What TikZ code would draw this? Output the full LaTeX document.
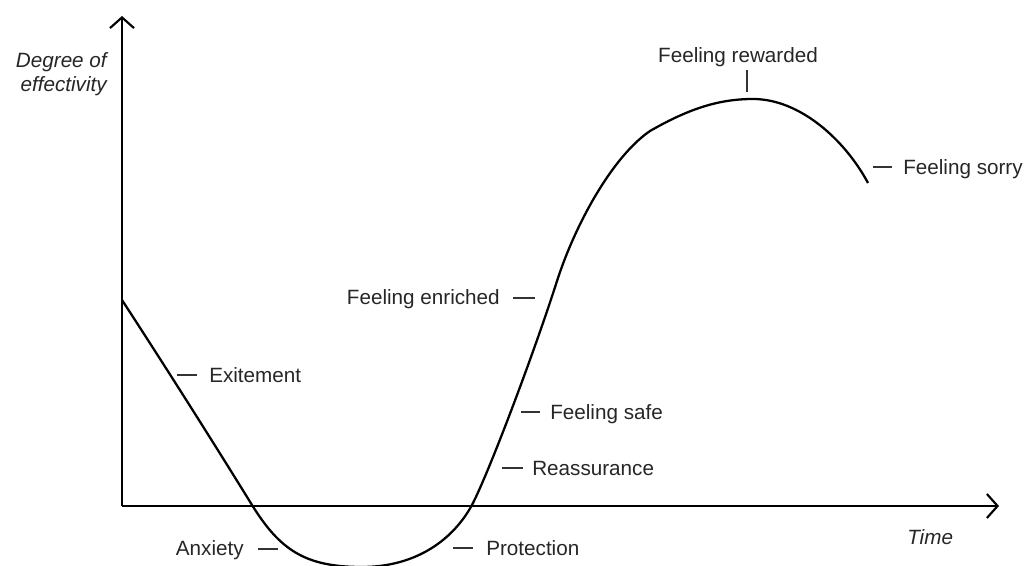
\documentclass[tikz,border=0pt]{standalone}
\usepackage{fontspec}
\setmainfont{Liberation Sans}
\usetikzlibrary{arrows.meta}
\begin{document}
\begin{tikzpicture}[x=0.75pt,y=-0.75pt,
  axis/.style={line width=1.6pt,-{Straight Barb[length=8pt,width=18pt,line width=1.6pt]}},
  curve/.style={line width=1.7pt,line join=round},
  tick/.style={line width=0.9pt,draw=black!80},
  lbl/.style={inner sep=0pt,font=\fontsize{15.5}{18}\selectfont,text=black!85}]
\useasboundingbox (0,0) rectangle (1027,566);
% axes
\coordinate (O) at (122,506);
\coordinate (Ytop) at (122,16);
\coordinate (Xend) at (999,506);
\draw[axis] (O) -- (Ytop);
\draw[axis] (O) -- (Xend);
% curve
\draw[curve] (122,300) .. controls (165,366) and (215,445) .. (252,505)
  .. controls (280,550) and (305,567) .. (362,567)
  .. controls (410,567) and (450,545) .. (472,505)
  .. controls (490,470) and (535,350) .. (557,281)
  .. controls (575,225) and (612,157) .. (650,131)
  .. controls (690,108) and (720,99) .. (753,99)
  .. controls (800,99) and (845,140) .. (868,183);
% axis labels
\node[lbl,anchor=base east,align=right,font=\fontsize{15.5}{18}\selectfont\itshape] (ylab) at (107,92) {Degree of\\effectivity};
\node[lbl,anchor=base west,font=\fontsize{15.5}{18}\selectfont\itshape] (xlab) at (907,544) {Time};
% labels
\node[lbl,anchor=base west] (exc) at (209,382) {Exitement};
\node[lbl,anchor=base east] (anx) at (244,555) {Anxiety};
\node[lbl,anchor=base west] (pro) at (486,555) {Protection};
\node[lbl,anchor=base west] (rea) at (532,475) {Reassurance};
\node[lbl,anchor=base west] (saf) at (550,419) {Feeling safe};
\node[lbl,anchor=base east] (enr) at (500,305) {Feeling enriched};
\node[lbl,anchor=base] (rew) at (738,63) {Feeling rewarded};
\node[lbl,anchor=base west] (sor) at (903,175) {Feeling sorry};
% ticks
\draw[tick] (177,375) -- (197,375);
\draw[tick] (258,549) -- (278,549);
\draw[tick] (453,548) -- (473,548);
\draw[tick] (502,468) -- (523,468);
\draw[tick] (521,412) -- (540,412);
\draw[tick] (513,298) -- (535,298);
\draw[tick] (747,70) -- (747,92);
\draw[tick] (873,167) -- (892,167);
\end{tikzpicture}
\end{document}
